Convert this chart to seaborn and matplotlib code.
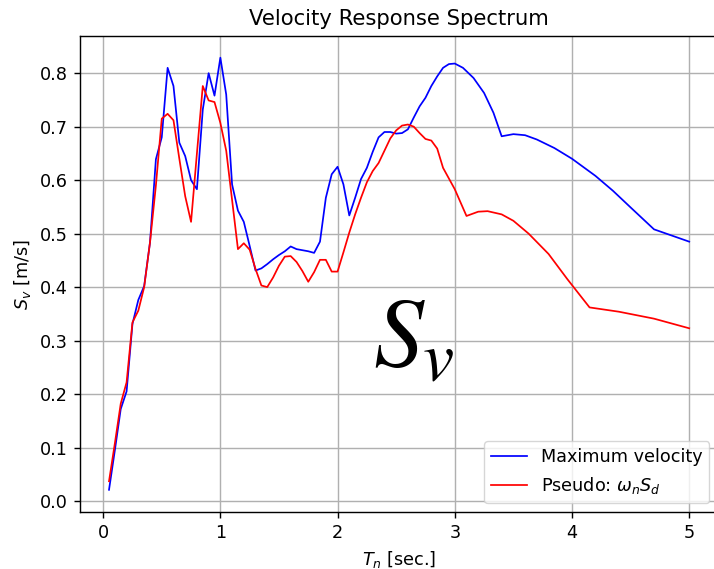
import matplotlib
matplotlib.use("Agg")
import matplotlib.pyplot as plt
import seaborn as sns
import pandas as pd

# Maximum velocity (blue)
T_max = [0.05, 0.10, 0.15, 0.20, 0.25, 0.30, 0.35, 0.40, 0.45, 0.50,
         0.55, 0.60, 0.65, 0.70, 0.75, 0.80, 0.85, 0.90, 0.95, 1.00,
         1.05, 1.10, 1.15, 1.20, 1.25, 1.30, 1.35, 1.40, 1.45, 1.50,
         1.55, 1.60, 1.65, 1.70, 1.75, 1.80, 1.85, 1.90, 1.95, 2.00,
         2.05, 2.10, 2.15, 2.20, 2.25, 2.30, 2.35, 2.40, 2.45, 2.50,
         2.55, 2.60, 2.65, 2.70, 2.75, 2.80, 2.85, 2.90, 2.95, 3.00,
         3.07, 3.16, 3.25, 3.33, 3.40, 3.50, 3.60, 3.70, 3.85, 4.00,
         4.20, 4.35, 4.50, 4.70, 5.00]
Sv_max = [0.021, 0.095, 0.172, 0.205, 0.331, 0.376, 0.402, 0.484, 0.639, 0.680,
          0.810, 0.776, 0.670, 0.645, 0.600, 0.583, 0.732, 0.800, 0.758, 0.829,
          0.760, 0.592, 0.543, 0.522, 0.477, 0.431, 0.435, 0.443, 0.452, 0.460,
          0.467, 0.476, 0.471, 0.469, 0.467, 0.464, 0.485, 0.567, 0.611, 0.625,
          0.592, 0.534, 0.567, 0.602, 0.623, 0.653, 0.680, 0.690, 0.690, 0.687,
          0.688, 0.695, 0.717, 0.738, 0.754, 0.776, 0.794, 0.810, 0.817, 0.818,
          0.810, 0.791, 0.763, 0.726, 0.682, 0.686, 0.684, 0.676, 0.660, 0.640,
          0.608, 0.580, 0.549, 0.508, 0.485]

# Pseudo velocity (red)
T_pse = [0.05, 0.10, 0.15, 0.20, 0.25, 0.30, 0.35, 0.40, 0.45, 0.50,
         0.55, 0.60, 0.65, 0.70, 0.75, 0.80, 0.85, 0.90, 0.95, 1.00,
         1.05, 1.10, 1.15, 1.20, 1.25, 1.30, 1.35, 1.40, 1.45, 1.50,
         1.55, 1.60, 1.65, 1.70, 1.75, 1.80, 1.85, 1.90, 1.95, 2.00,
         2.05, 2.10, 2.15, 2.20, 2.25, 2.30, 2.35, 2.40, 2.45, 2.50,
         2.55, 2.60, 2.65, 2.70, 2.75, 2.80, 2.85, 2.90, 3.00, 3.10,
         3.20, 3.28, 3.40, 3.50, 3.63, 3.80, 3.96, 4.15, 4.40, 4.70, 5.00]
Sv_pse = [0.037, 0.108, 0.182, 0.222, 0.334, 0.356, 0.400, 0.484, 0.590, 0.715,
          0.724, 0.712, 0.640, 0.570, 0.522, 0.650, 0.776, 0.749, 0.746, 0.707,
          0.655, 0.563, 0.471, 0.482, 0.470, 0.434, 0.403, 0.400, 0.418, 0.440,
          0.457, 0.458, 0.447, 0.430, 0.410, 0.428, 0.451, 0.451, 0.429, 0.429,
          0.465, 0.502, 0.536, 0.567, 0.596, 0.617, 0.632, 0.655, 0.678, 0.693,
          0.702, 0.704, 0.700, 0.688, 0.677, 0.674, 0.659, 0.623, 0.583, 0.533,
          0.541, 0.542, 0.536, 0.524, 0.500, 0.462, 0.415, 0.362, 0.354, 0.341, 0.323]

x_ticks = [0, 1, 2, 3, 4, 5]
y_ticks = [0.0, 0.1, 0.2, 0.3, 0.4, 0.5, 0.6, 0.7, 0.8]

df_max = pd.DataFrame({"T": T_max, "Sv": Sv_max})
df_pse = pd.DataFrame({"T": T_pse, "Sv": Sv_pse})

k = 1.27  # scale factor
fig = plt.figure(figsize=(7.14, 5.69), dpi=100)
ax = fig.add_axes([80 / 714, 57 / 569, (718.2 - 80) / 714, (533 - 57) / 569])

sns.lineplot(data=df_max, x="T", y="Sv", ax=ax, color="blue", lw=1.25,
             label="Maximum velocity", estimator=None, sort=False)
sns.lineplot(data=df_pse, x="T", y="Sv", ax=ax, color="red", lw=1.25,
             label=r"Pseudo: $\omega_n S_d$", estimator=None, sort=False)

ax.set_xlim(-0.1975, 5.2475)
ax.set_ylim(-0.0205, 0.8695)
ax.set_xticks(x_ticks)
ax.set_yticks(y_ticks)
ax.set_yticklabels([f"{v:.1f}" for v in y_ticks])
ax.tick_params(labelsize=10 * k, length=3.5 * k, width=0.8 * k, pad=3.5 * k)
ax.grid(True, color="#b0b0b0", lw=0.8 * k)
ax.set_axisbelow(True)
for s in ax.spines.values():
    s.set_linewidth(0.8 * k)

ax.set_xlabel(r"$T_n$ [sec.]", fontsize=10 * k, labelpad=4 * k)
ax.set_ylabel(r"$S_v$ [m/s]", fontsize=10 * k, labelpad=4 * k)
ax.set_title("Velocity Response Spectrum", fontsize=12 * k, pad=6 * k)

ax.text(2.3, 0.25, r"$S_v$", fontsize=72, math_fontfamily="stix")

ax.legend(loc="lower right", fontsize=10 * k, framealpha=0.8)

fig.savefig("out.png", dpi=100)
